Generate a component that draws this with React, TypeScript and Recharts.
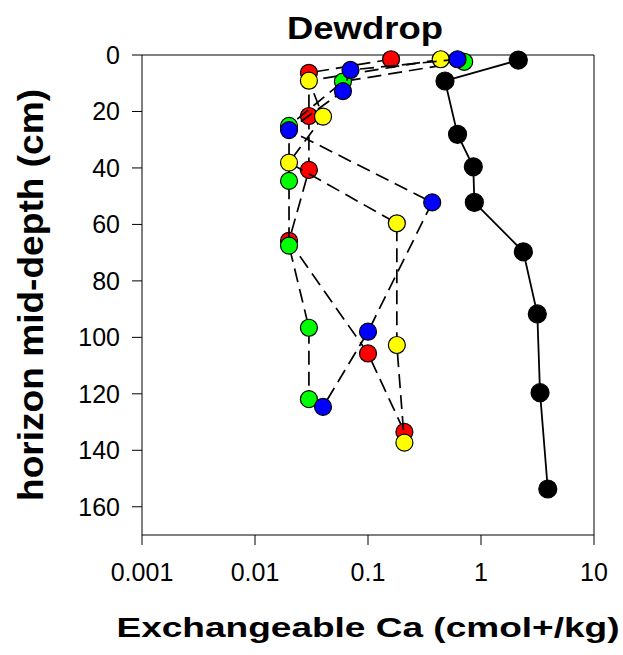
import { ReferenceLine, Scatter, ScatterChart, XAxis, YAxis } from "recharts";

// depths (cm) and exchangeable Ca (cmol+/kg) for each profile
const redDepth = [1.5, 6.3, 21.6, 40.7, 65.8, 105.7, 133.5];
const redCa = [0.16, 0.03, 0.03, 0.03, 0.02, 0.1, 0.21];

const greenDepth = [2.4, 9.4, 25.1, 44.6, 67.5, 96.6, 121.9];
const greenCa = [0.71, 0.06, 0.02, 0.02, 0.02, 0.03, 0.03];

const yellowDepth = [1.5, 9.1, 21.8, 38.1, 59.6, 102.7, 137.3];
const yellowCa = [0.44, 0.03, 0.04, 0.02, 0.18, 0.18, 0.21];

const blueDepth = [1.5, 5.3, 12.8, 26.6, 52.2, 98, 124.6];
const blueCa = [0.62, 0.07, 0.06, 0.02, 0.37, 0.1, 0.04];

const blackDepth = [1.8, 9.2, 28.1, 39.6, 52.2, 69.7, 91.7, 119.6, 153.7];
const blackCa = [2.14, 0.48, 0.62, 0.855, 0.873, 2.37, 3.15, 3.33, 3.9];

const xTicks = [0.001, 0.01, 0.1, 1, 10];
const yTicks = [0, 20, 40, 60, 80, 100, 120, 140, 160];

const pts = (ca: number[], depth: number[]) => ca.map((x, i) => ({ x, y: depth[i] }));

const dot = (fill: string, r = 8.5) => (p: any) =>
  <circle cx={p.cx} cy={p.cy} r={r} fill={fill} stroke="#000" strokeWidth={1.2} />;

const dashed = { stroke: "#000", strokeWidth: 1.7, strokeDasharray: "14 7" };
const font = "'Liberation Sans', Arial, sans-serif";
const tick = { fontSize: 25, fill: "#000", fontFamily: font };

export default function App() {
  return (
    <div style={{ position: "absolute", left: 0, top: 0, width: 623, height: 655, background: "#fff" }}>
      <ScatterChart width={623} height={655} margin={{ top: 55, right: 29, bottom: 60, left: 0 }}>
        <XAxis
          type="number"
          dataKey="x"
          scale="log"
          domain={[0.001, 10]}
          ticks={xTicks}
          allowDataOverflow
          height={60}
          tickSize={10}
          tickMargin={18}
          tick={tick}
          stroke="#000"
          interval={0}
        />
        <YAxis
          type="number"
          dataKey="y"
          domain={[0, 170]}
          ticks={yTicks}
          reversed
          width={142}
          tickSize={10}
          tickMargin={12}
          tick={tick}
          stroke="#000"
          interval={0}
        />
        <ReferenceLine y={0} stroke="#000" strokeWidth={1} />
        <ReferenceLine x={10} stroke="#000" strokeWidth={1} />
        <Scatter data={pts(redCa, redDepth)} line={dashed} lineType="joint" shape={dot("#ff0000")} isAnimationActive={false} />
        <Scatter data={pts(greenCa, greenDepth)} line={dashed} lineType="joint" shape={dot("#00ff00")} isAnimationActive={false} />
        <Scatter data={pts(yellowCa, yellowDepth)} line={dashed} lineType="joint" shape={dot("#ffff00")} isAnimationActive={false} />
        <Scatter data={pts(blueCa, blueDepth)} line={dashed} lineType="joint" shape={dot("#0000ff")} isAnimationActive={false} />
        <Scatter
          data={pts(blackCa, blackDepth)}
          line={{ stroke: "#000", strokeWidth: 1.8 }}
          lineType="joint"
          shape={dot("#000", 9)}
          isAnimationActive={false}
        />
      </ScatterChart>
      <svg width={623} height={655} style={{ position: "absolute", left: 0, top: 0, pointerEvents: "none" }}>
        <text x={365} y={39} textAnchor="middle" fontSize={32} fontWeight="bold" fontFamily={font} textLength={156} lengthAdjust="spacingAndGlyphs">
          Dewdrop
        </text>
        <text x={368} y={637} textAnchor="middle" fontSize={28} fontWeight="bold" fontFamily={font} textLength={503} lengthAdjust="spacingAndGlyphs">
          Exchangeable Ca (cmol+/kg)
        </text>
        <text x={43} y={295} transform="rotate(-90 43 295)" textAnchor="middle" fontSize={35} fontWeight="bold" fontFamily={font} textLength={412} lengthAdjust="spacingAndGlyphs">
          horizon mid-depth (cm)
        </text>
      </svg>
    </div>
  );
}
